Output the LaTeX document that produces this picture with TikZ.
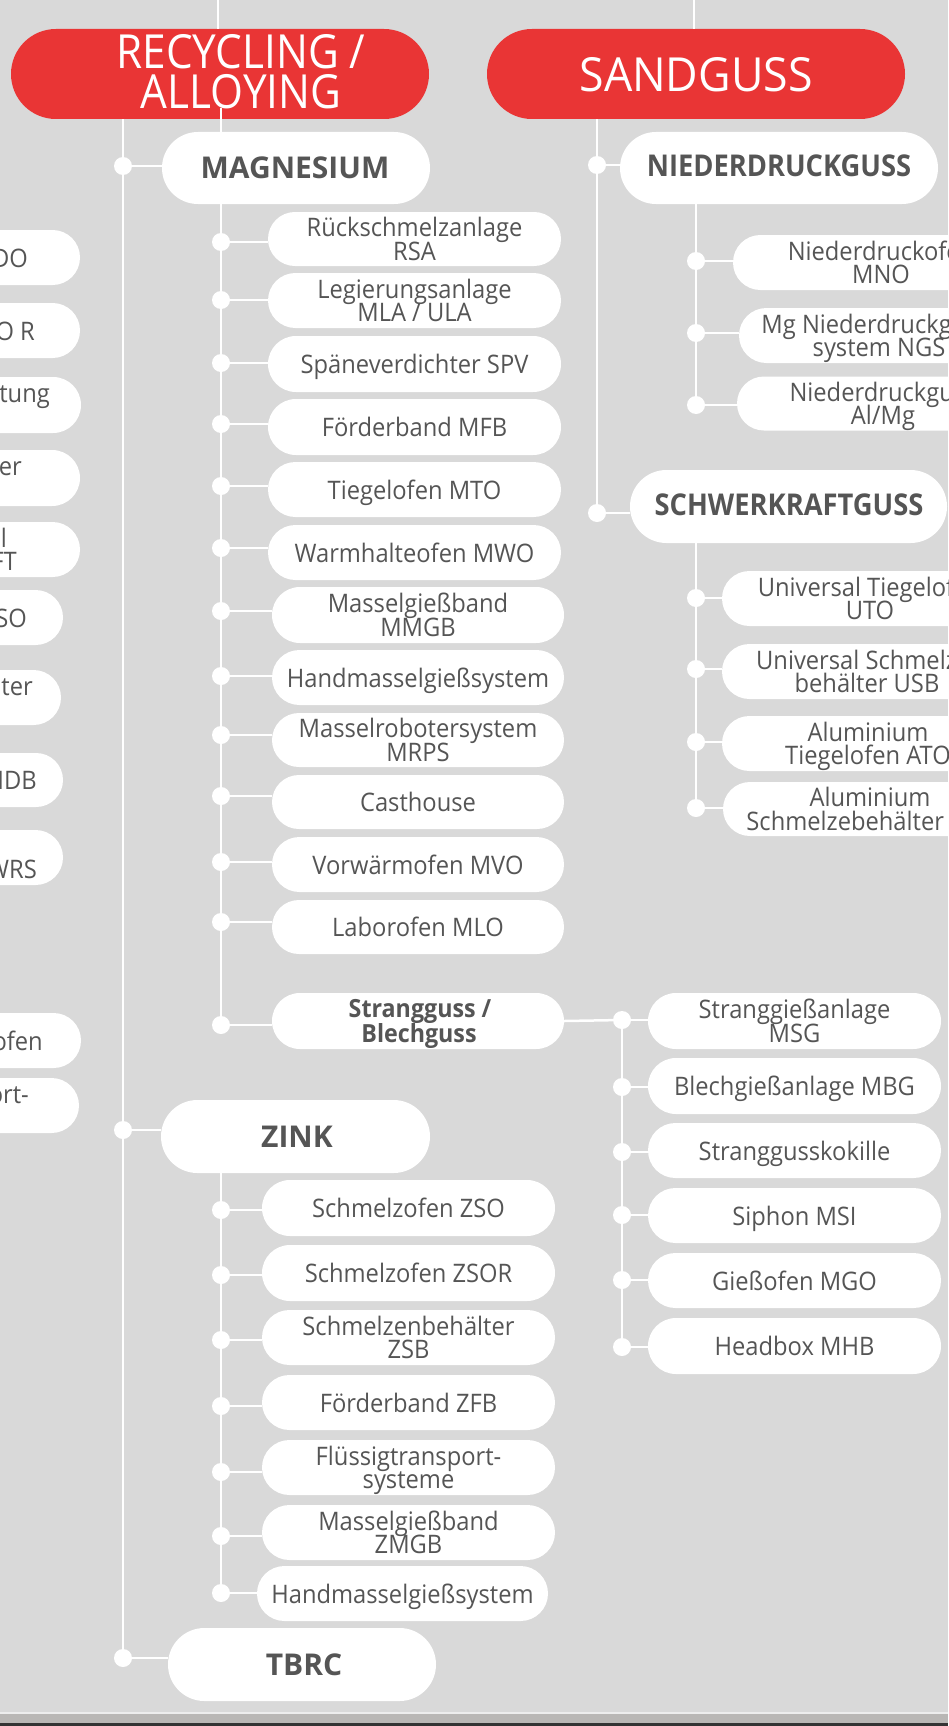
\documentclass[tikz,border=0pt]{standalone}
\usepackage{fontspec}
\setmainfont{Open Sans}[FakeStretch=0.93]
\newfontfamily\hfont{Open Sans}[FakeStretch=0.9]
\newfontfamily\hfontw{Open Sans}[FakeStretch=0.95]
\newfontfamily\bfam{Open Sans}[FakeStretch=1.0]
\newfontfamily\bfamn{Open Sans}[FakeStretch=0.91]
\definecolor{bg}{RGB}{217,217,217}
\definecolor{rd}{RGB}{233,53,53}
\definecolor{tx}{RGB}{85,85,85}
\definecolor{stripA}{RGB}{237,237,237}
\definecolor{stripB}{RGB}{185,183,181}
\definecolor{stripC}{RGB}{51,51,51}
\tikzset{
  whitepill/.style={fill=white, draw=none, inner sep=0pt},
  redpill/.style={fill=rd, draw=none, inner sep=0pt},
  lbl/.style={anchor=base, inner sep=0pt, text=tx, font=\fontsize{25.5}{23.5}\selectfont},
  lble/.style={lbl, anchor=base east},
  blbl/.style={anchor=base, inner sep=0pt, text=tx, font=\bfamn\fontsize{30}{30}\selectfont\bfseries},
  bwlbl/.style={anchor=base, inner sep=0pt, text=tx, font=\bfam\fontsize{30}{30}\selectfont\bfseries},
  slbl/.style={anchor=base, inner sep=0pt, text=tx, font=\fontsize{25}{24}\selectfont\bfseries},
  hlbl/.style={anchor=base, inner sep=0pt, text=white, font=\hfont\fontsize{47}{41}\selectfont},
  hwlbl/.style={anchor=base, inner sep=0pt, text=white, font=\hfontw\fontsize{47}{41}\selectfont},
  wire/.style={white, line width=2.5pt},
  dot/.style={circle, fill=white, draw=none, inner sep=0pt, minimum size=18pt},
}
% name, x1, x2, yc, h, style
\newcommand\mkpill[6]{\node[#6, minimum width={(#3-#2)*1pt}, minimum height={#5*1pt}, rounded corners={(#5/2-0.05)*1pt}] (#1) at ({(#2+#3)/2},#4) {};}
\newcommand\onel[4]{\node[lbl] (#1) at (#2,{#3+9.5}) {#4};}
\newcommand\twol[5]{\node[lbl] (#1a) at (#2,{#3-2.5}) {#4};\node[lbl] (#1b) at (#2,{#3+21}) {#5};}
\begin{document}
\begin{tikzpicture}[x=1pt,y=-1pt]
\useasboundingbox (0,0) rectangle (948,1726);
\clip (0,0) rectangle (948,1726);
\fill[bg] (0,0) rectangle (948,1712);
\fill[stripA] (0,1712) rectangle (948,1714);
\fill[stripB] (0,1714) rectangle (948,1723);
\fill[stripC] (0,1723) rectangle (948,1726);

% red headers
\mkpill{rec}{11}{429}{74}{90}{redpill}
\mkpill{sand}{487}{905}{74}{90}{redpill}

% left partial pills
\mkpill{L1}{-150}{80}{257.5}{55}{whitepill}
\mkpill{L2}{-150}{80}{330.5}{55}{whitepill}
\mkpill{L3}{-150}{81}{405}{56}{whitepill}
\mkpill{L4}{-150}{80}{478}{56}{whitepill}
\mkpill{L5}{-150}{80}{549.5}{55}{whitepill}
\mkpill{L6}{-150}{63}{617.5}{55}{whitepill}
\mkpill{L7}{-150}{61}{697.5}{55}{whitepill}
\mkpill{L8}{-150}{63}{780}{54}{whitepill}
\mkpill{L9}{-150}{63}{857.5}{55}{whitepill}
\mkpill{L10}{-150}{81}{1040.5}{55}{whitepill}
\mkpill{L11}{-150}{79}{1105.5}{55}{whitepill}

% category pills
\mkpill{mag}{162}{430}{168}{72}{whitepill}
\mkpill{zink}{161}{430}{1136.5}{73}{whitepill}
\mkpill{tbrc}{168}{436}{1664.5}{73}{whitepill}
\mkpill{nied}{620}{938}{168}{72}{whitepill}
\mkpill{schw}{630}{947}{506.5}{73}{whitepill}

% magnesium children
\mkpill{m1}{268}{561}{239}{54}{whitepill}
\mkpill{m2}{268}{561}{300.5}{55}{whitepill}
\mkpill{m3}{268}{561}{364}{56}{whitepill}
\mkpill{m4}{268}{561}{427}{56}{whitepill}
\mkpill{m5}{268}{561}{489.5}{55}{whitepill}
\mkpill{m6}{268}{561}{552.5}{55}{whitepill}
\mkpill{m7}{272}{564}{615}{56}{whitepill}
\mkpill{m8}{272}{564}{677.5}{55}{whitepill}
\mkpill{m9}{272}{564}{740}{54}{whitepill}
\mkpill{m10}{272}{564}{802}{54}{whitepill}
\mkpill{m11}{272}{564}{864.5}{55}{whitepill}
\mkpill{m12}{272}{564}{927}{54}{whitepill}
\mkpill{m13}{272}{564}{1021}{56}{whitepill}

% strangguss children
\mkpill{s1}{648}{941}{1021}{56}{whitepill}
\mkpill{s2}{648}{941}{1086}{56}{whitepill}
\mkpill{s3}{648}{941}{1150.5}{55}{whitepill}
\mkpill{s4}{648}{941}{1215.5}{55}{whitepill}
\mkpill{s5}{648}{941}{1280.5}{55}{whitepill}
\mkpill{s6}{648}{941}{1346}{56}{whitepill}

% zink children
\mkpill{z1}{262}{555}{1208}{56}{whitepill}
\mkpill{z2}{262}{555}{1273}{56}{whitepill}
\mkpill{z3}{262}{555}{1337.5}{55}{whitepill}
\mkpill{z4}{262}{555}{1402.5}{55}{whitepill}
\mkpill{z5}{262}{555}{1467.5}{55}{whitepill}
\mkpill{z6}{262}{555}{1532.5}{55}{whitepill}
\mkpill{z7}{257}{548}{1593.5}{55}{whitepill}

% niederdruck children
\mkpill{n1}{733}{1029}{262.5}{55}{whitepill}
\mkpill{n2}{739}{1019}{335.5}{55}{whitepill}
\mkpill{n3}{737}{1029}{403.5}{54}{whitepill}
% schwerkraft children
\mkpill{w1}{722}{1018}{598.5}{55}{whitepill}
\mkpill{w2}{722}{1012}{671.5}{55}{whitepill}
\mkpill{w3}{722}{1014}{743.5}{55}{whitepill}
\mkpill{w4}{723}{1017}{809}{54}{whitepill}

% dots
\node[dot] (dmag) at (123,166) {};
\node[dot] (dzink) at (123,1130) {};
\node[dot] (dtbrc) at (123,1658) {};
\node[dot] (dnied) at (597,165) {};
\node[dot] (dschw) at (597,513) {};
\foreach \n/\y in {1/242,2/300,3/363,4/424,5/486,6/548,7/611,8/676,9/735,10/796,11/862,12/922,13/1025}
  \node[dot] (dm\n) at (221,\y) {};
\foreach \n/\y in {1/1020,2/1087,3/1152,4/1215,5/1280,6/1347}
  \node[dot] (ds\n) at (622,\y) {};
\foreach \n/\y in {1/1210,2/1275,3/1340,4/1406,5/1472,6/1536,7/1593}
  \node[dot] (dz\n) at (221,\y) {};
\foreach \n/\y in {1/261,2/333,3/405}
  \node[dot] (dn\n) at (696,\y) {};
\foreach \n/\y in {1/598,2/669,3/742,4/808}
  \node[dot] (dw\n) at (696,\y) {};

% connectors
\coordinate (ttopL) at (218,0);
\coordinate (ttopR) at (694,0);
\coordinate (magtop) at (221,108);
\draw[wire] (ttopL) -- (ttopL |- rec.north);
\draw[wire] (ttopR) -- (ttopR |- sand.north);
\draw[wire] (rec.south -| dmag) -- (dtbrc);
\draw[wire] (sand.south -| dnied) -- (dschw);
\draw[wire] (magtop) -- (dm13);
\draw[wire] (zink.south -| dz1) -- (dz7);
\draw[wire] (nied.south -| dn1) -- (dn3);
\draw[wire] (schw.south -| dw1) -- (dw4);
\draw[wire] (ds1) -- (ds6);
\draw[wire] (dmag) -- (dmag -| mag.west);
\draw[wire] (dzink) -- (dzink -| zink.west);
\draw[wire] (dtbrc) -- (dtbrc -| tbrc.west);
\draw[wire] (dnied) -- (dnied -| nied.west);
\draw[wire] (dschw) -- (dschw -| schw.west);
\foreach \n in {1,...,13} \draw[wire] (dm\n) -- (dm\n -| m\n.west);
\foreach \n in {1,...,6} \draw[wire] (ds\n) -- (ds\n -| s\n.west);
\foreach \n in {1,...,7} \draw[wire] (dz\n) -- (dz\n -| z\n.west);
\foreach \n in {1,2,3} \draw[wire] (dn\n) -- (dn\n -| n\n.west);
\foreach \n in {1,...,4} \draw[wire] (dw\n) -- (dw\n -| w\n.west);
\draw[wire] (m13.east) -- (ds1);

% header texts
\node[hlbl] (trec1) at (241,68.5) {RECYCLING /};
\node[hlbl] (trec2) at (241,109) {ALLOYING};
\node[hwlbl] (tsand) at (696,91.5) {SANDGUSS};

% category texts
\node[bwlbl] (tmag) at (295,178.5) {MAGNESIUM};
\node[bwlbl] (tzink) at (297,1147) {ZINK};
\node[bwlbl] (ttbrc) at (304,1675) {TBRC};
\node[blbl] (tnied) at (779,176.5) {NIEDERDRUCKGUSS};
\node[blbl] (tschw) at (789,515.5) {SCHWERKRAFTGUSS};

% left partial texts
\node[lble] (tL1) at (28,{257.5+9.5}) {DO};
\node[lble] (tL2) at (35,{330.5+9.5}) {O R};
\node[lble] (tL3) at (50,{405-2.5}) {tung};
\node[lble] (tL4) at (22,{478-2.5}) {er};
\node[lble] (tL5a) at (7,{549.5-2.5}) {l};
\node[lble] (tL5b) at (17,{549.5+21}) {FT};
\node[lble] (tL6) at (27,{617.5+9.5}) {SO};
\node[lble] (tL7) at (33,{697.5-2.5}) {lter};
\node[lble] (tL8) at (37,{780+9.5}) {MDB};
\node[lble] (tL9) at (37,{857.5+21}) {WRS};
\node[lble] (tL10) at (43,{1040.5+9.5}) {ofen};
\node[lble] (tL11) at (29,{1105.5-2.5}) {ort-};

% magnesium children texts
\twol{tm1}{414.5}{239}{Rückschmelzanlage}{RSA}
\twol{tm2}{414.5}{300.5}{Legierungsanlage}{MLA / ULA}
\onel{tm3}{414.5}{364}{Späneverdichter SPV}
\onel{tm4}{414.5}{427}{Förderband MFB}
\onel{tm5}{414.5}{489.5}{Tiegelofen MTO}
\onel{tm6}{414.5}{552.5}{Warmhalteofen MWO}
\twol{tm7}{418}{615}{Masselgießband}{MMGB}
\onel{tm8}{418}{677.5}{Handmasselgießsystem}
\twol{tm9}{418}{740}{Masselrobotersystem}{MRPS}
\onel{tm10}{418}{802}{Casthouse}
\onel{tm11}{418}{864.5}{Vorwärmofen MVO}
\onel{tm12}{418}{927}{Laborofen MLO}
\node[slbl] (tm13a) at (420,1017.7) {Strangguss /};
\node[slbl] (tm13b) at (419,1042.3) {Blechguss};

% strangguss children texts
\twol{ts1}{794.5}{1021}{Stranggießanlage}{MSG}
\onel{ts2}{794.5}{1086}{Blechgießanlage MBG}
\onel{ts3}{794.5}{1150.5}{Stranggusskokille}
\onel{ts4}{794.5}{1215.5}{Siphon MSI}
\onel{ts5}{794.5}{1280.5}{Gießofen MGO}
\onel{ts6}{794.5}{1346}{Headbox MHB}

% zink children texts
\onel{tz1}{408.5}{1208}{Schmelzofen ZSO}
\onel{tz2}{408.5}{1273}{Schmelzofen ZSOR}
\twol{tz3}{408.5}{1337.5}{Schmelzenbehälter}{ZSB}
\onel{tz4}{408.5}{1402.5}{Förderband ZFB}
\twol{tz5}{408.5}{1467.5}{Flüssigtransport-}{systeme}
\twol{tz6}{408.5}{1532.5}{Masselgießband}{ZMGB}
\onel{tz7}{402.5}{1593.5}{Handmasselgießsystem}

% niederdruck children texts
\twol{tn1}{881}{262.5}{Niederdruckofen}{MNO}
\twol{tn2}{879}{335.5}{Mg Niederdruckguss-}{system NGS}
\twol{tn3}{883}{403.5}{Niederdruckguss}{Al/Mg}
% schwerkraft children texts
\twol{tw1}{870}{598.5}{Universal Tiegelofen}{UTO}
\twol{tw2}{867}{671.5}{Universal Schmelze-}{behälter USB}
\twol{tw3}{868}{743.5}{Aluminium}{Tiegelofen ATO}
\twol{tw4}{870}{809}{Aluminium}{Schmelzebehälter ASB}
\end{tikzpicture}
\end{document}
